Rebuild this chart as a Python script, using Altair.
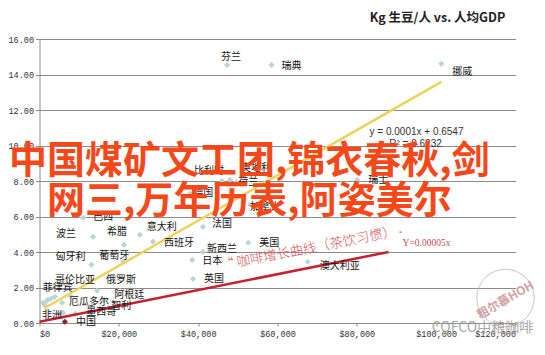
import altair as alt
import pandas as pd

# ---------------- data ----------------
countries = ["芬兰", "瑞典", "挪威", "比利时", "奥地利", "荷兰", "瑞士", "德国", "加拿大",
             "巴西", "法国", "意大利", "西班牙", "美国", "新西兰", "日本", "英国", "澳大利亚",
             "波兰", "希腊", "匈牙利", "葡萄牙", "哥伦比亚", "俄罗斯", "菲律宾", "厄瓜多尔",
             "阿根廷", "智利", "墨西哥", "非洲", "中国"]
gdp_per_capita = [47300, 58500, 101300, 46000, 48000, 49600, 80100, 38000, 53100,
                  11000, 41200, 25300, 28600, 52600, 41200, 38500, 38700, 67600,
                  13500, 21300, 13100, 21100, 7700, 14500, 2100, 5700,
                  16300, 15300, 9000, 5900, 6400]
coffee_kg = [14.54, 14.54, 14.60, 8.00, 8.06, 7.95, 8.06, 7.28, 6.66,
             5.93, 5.42, 4.97, 4.58, 4.52, 4.01, 3.56, 2.49, 3.45,
             4.86, 4.41, 3.28, 3.45, 1.54, 1.82, 1.31, 1.14,
             1.31, 0.80, 0.52, 0.58, 0.07]

# unlabeled points in the crowded lower-left corner
extra_gdp = [900, 1400, 1900, 2900, 3900]
extra_kg = [1.14, 0.98, 1.25, 1.37, 1.48]

# trend lines (end points as drawn)
yellow_gdp = [1200, 101300]
yellow_kg = [0.83, 13.58]
red_gdp = [0, 88000]
red_kg = [0.07, 4.00]

x_ticks = [0, 20000, 40000, 60000, 80000, 100000, 120000]
y_ticks = [0, 2, 4, 6, 8, 10, 12, 14, 16]

title_text = "Kg 生豆/人 vs. 人均GDP"
eq_text = "y = 0.0001x + 0.6547"
r2_text = "R² = 0.6232"
hand_text = "“ 咖啡增长曲线（茶饮习惯）"
red_eq_text = "Y=0.00005x"
overlay_line1 = "中国煤矿文工团,锦衣春秋,剑"
overlay_line2 = "网三,万年历表,阿姿美尔"
watermark_text = "COFCO中粮咖啡"
stamp_text = "粗尔慕HOH"

# ---------------- layout (label offsets in pixels) ----------------
label_dx = [4, 20, 21, -13, 26, 12, 21, 13, 15,
            20, 19, 22, 26, 21, 19, 20, 21, 32,
            -27, -7, -21, -9, 5, 24, 10, 27,
            25, 21, 26, -11, 21]
label_dy = [-8, 1, 8, -10, -12, 0, 0, -1, 2,
            -1, -3, -8, 1, 0, -3, 1, 0, 4,
            -3, -13, -8, -6, -16, -11, -12, -1,
            -5, -3, -2, 2, 0]

W, H = 476, 284
PX_PER_GDP = W / 120000.0
PX_PER_KG = H / 16.0

df = pd.DataFrame({"country": countries + [""] * len(extra_gdp),
                   "gdp": gdp_per_capita + extra_gdp,
                   "kg": coffee_kg + extra_kg,
                   "dx": label_dx + [0] * len(extra_gdp),
                   "dy": label_dy + [0] * len(extra_gdp)})

xs = alt.Scale(domain=[0, 120000], nice=False, zero=False)
ys = alt.Scale(domain=[0, 16], nice=False, zero=False)
grey = "#8c8c8c"
xaxis = alt.Axis(values=x_ticks, format="$,.0f", grid=False, title=None,
                 domainColor=grey, tickColor=grey, tickSize=3, labelPadding=3)
yaxis = alt.Axis(values=y_ticks, format=".2f", grid=True, gridColor=grey, title=None,
                 domainColor=grey, tickColor=grey, tickSize=4, labelPadding=2)


def X(f):
    return alt.X(f, type="quantitative", scale=xs, axis=xaxis)


def Y(f):
    return alt.Y(f, type="quantitative", scale=ys, axis=yaxis)


points = alt.Chart(df).mark_point(shape="diamond", filled=True, size=38, opacity=1).encode(
    x=X("gdp"), y=Y("kg"),
    color=alt.condition(alt.datum.country == "中国", alt.value("#8b2332"), alt.value("#b9d6d2")),
)

labels = alt.Chart(df).transform_filter(alt.datum.country != "").transform_calculate(
    lx=f"datum.gdp + datum.dx / {PX_PER_GDP}",
    ly=f"datum.kg - datum.dy / {PX_PER_KG}",
).mark_text(font="Noto Sans CJK SC", fontSize=10, color="#141414",
            align="center", baseline="middle").encode(x=X("lx"), y=Y("ly"), text="country:N")

yellow = alt.Chart(pd.DataFrame({"gdp": yellow_gdp, "kg": yellow_kg})).mark_line(
    color="#ecd35a", strokeWidth=2.5).encode(x=X("gdp"), y=Y("kg"))
red = alt.Chart(pd.DataFrame({"gdp": red_gdp, "kg": red_kg})).mark_line(
    color="#c8202e", strokeWidth=2.5).encode(x=X("gdp"), y=Y("kg"))

one = pd.DataFrame({"a": [0]})


def note(text, x, y, **kw):
    return alt.Chart(one).mark_text(**kw).encode(
        x=alt.value(x), y=alt.value(y), text=alt.value(text))


title = note(title_text, 398, -21, font="Noto Sans CJK SC", fontSize=12.5, fontWeight="bold",
             color="#222222", align="center", baseline="middle")
eq = note(eq_text, 377, 93, font="Liberation Sans", fontSize=10, color="#333333",
          align="center", baseline="middle")
r2 = note(r2_text, 376, 105, font="Liberation Sans", fontSize=10, color="#333333",
          align="center", baseline="middle")
hand = note(hand_text, 269, 210, font="Noto Sans CJK SC", fontSize=13.5, fontWeight=300,
            color="#d65560", align="center", baseline="middle", angle=349)
red_eq = note(red_eq_text, 387, 204, font="Liberation Serif", fontSize=9.5, color="#c94a57",
              align="center", baseline="middle")
red_star = note("*", 361, 194, font="Liberation Serif", fontSize=7, color="#c94a57",
                align="center", baseline="middle")
big1 = note(overlay_line1, -30.5, 122.5, font="Noto Sans CJK SC", fontSize=38, fontWeight="bold",
            color="#f5481a", align="left", baseline="middle")
big2 = note(overlay_line2, 7.5, 162.5, font="Noto Sans CJK SC", fontSize=38, fontWeight="bold",
            color="#f5481a", align="left", baseline="middle")
stamp_circle = alt.Chart(one).mark_point(shape="circle", filled=False, size=3300,
                                         stroke="#c7b3b3", strokeWidth=1, opacity=0.8).encode(
    x=alt.value(466), y=alt.value(259))
stamp = note(stamp_text, 466, 261, font="Noto Sans CJK SC", fontSize=12, fontWeight="bold",
             color="#c98a90", opacity=0.8, align="center", baseline="middle", angle=330)
wm = note(watermark_text, 443, 289, font="Noto Sans CJK SC", fontSize=14, color="#9a9a9a",
          opacity=0.85, align="center", baseline="middle")

chart = alt.layer(points, yellow, red, labels, title, eq, r2, hand, red_eq, red_star,
                  stamp_circle, stamp, wm, big1, big2).properties(
    width=W, height=H,
    autosize=alt.AutoSizeParams(type="none"),
    padding={"left": 31.5, "top": 31, "right": 21, "bottom": 18},
    background="white",
).configure_view(stroke=None).configure_axis(
    labelFont="Liberation Mono", labelFontSize=8.5, labelColor="#333333",
)

chart.save("out.html", embed_options={"renderer": "svg", "actions": False})
